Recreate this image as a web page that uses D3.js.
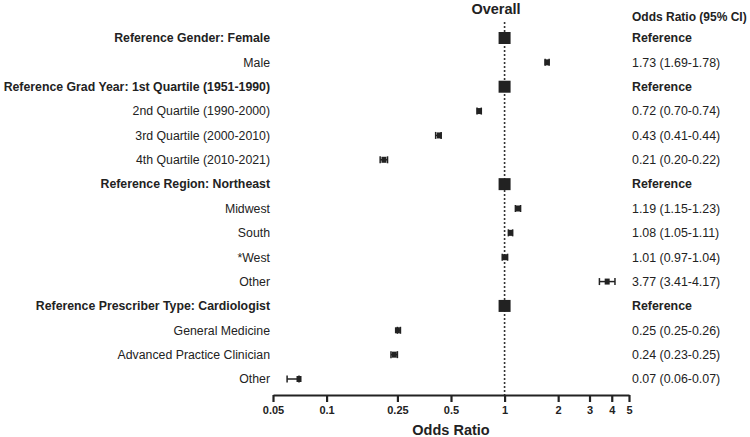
<!DOCTYPE html>
<html>
<head>
<meta charset="utf-8">
<script src="https://cdn.jsdelivr.net/npm/d3@7"></script>
<style>
	body { margin: 0; background: #fff; }
	text { font-family: "Liberation Sans", Arial, sans-serif; fill: #222; }
</style>
</head>
<body>
<script>
//rows of the forest plot, top to bottom
const labels = [
	"Reference Gender: Female", "Male",
	"Reference Grad Year: 1st Quartile (1951-1990)", "2nd Quartile (1990-2000)", "3rd Quartile (2000-2010)", "4th Quartile (2010-2021)",
	"Reference Region: Northeast", "Midwest", "South", "*West", "Other",
	"Reference Prescriber Type: Cardiologist", "General Medicine", "Advanced Practice Clinician", "Other"
];
const isRef = [true, false, true, false, false, false, true, false, false, false, false, true, false, false, false];
const oddsRatio = [1, 1.73, 1, 0.72, 0.43, 0.21, 1, 1.19, 1.08, 1.01, 3.77, 1, 0.25, 0.24, 0.07];
const ciLow  = [1, 1.69, 1, 0.70, 0.41, 0.20, 1, 1.15, 1.05, 0.97, 3.41, 1, 0.25, 0.23, 0.06];
const ciHigh = [1, 1.78, 1, 0.74, 0.44, 0.22, 1, 1.23, 1.11, 1.04, 4.17, 1, 0.26, 0.25, 0.07];
const ciText = ["Reference", "1.73 (1.69-1.78)", "Reference", "0.72 (0.70-0.74)", "0.43 (0.41-0.44)", "0.21 (0.20-0.22)",
	"Reference", "1.19 (1.15-1.23)", "1.08 (1.05-1.11)", "1.01 (0.97-1.04)", "3.77 (3.41-4.17)",
	"Reference", "0.25 (0.25-0.26)", "0.24 (0.23-0.25)", "0.07 (0.06-0.07)"];
const tickVals = [0.05, 0.1, 0.25, 0.5, 1, 2, 3, 4, 5];

const width = 750, height = 437;
const axisY = 395;

const svg = d3.select("body").append("svg")
	.attr("width", width)
	.attr("height", height);

//scales
const x = d3.scaleLog().domain([0.05, 5]).range([273, 629]);
const y = d3.scalePoint().domain(d3.range(labels.length)).range([38, 379]);

const rows = labels.map(function(d, i){
	return {label: d, ref: isRef[i], or: oddsRatio[i], lo: ciLow[i], hi: ciHigh[i], txt: ciText[i], i: i};
});

//dotted line of no effect
svg.append("line")
	.attr("x1", x(1)).attr("x2", x(1))
	.attr("y1", 22).attr("y2", axisY)
	.attr("stroke", "#333")
	.attr("stroke-width", 1.6)
	.attr("stroke-dasharray", "2,2");

//row labels
svg.append("g").selectAll("text")
	.data(rows).enter().append("text")
	.attr("x", 270)
	.attr("y", function(d){ return y(d.i); })
	.attr("dy", "0.35em")
	.attr("text-anchor", "end")
	.attr("font-size", 12.3)
	.attr("font-weight", function(d){ return d.ref ? "bold" : "normal"; })
	.text(function(d){ return d.label; });

//odds ratio column
svg.append("text")
	.attr("x", 632).attr("y", 17)
	.attr("dy", "0.35em")
	.attr("font-size", 12)
	.attr("font-weight", "bold")
	.text("Odds Ratio (95% CI)");

svg.append("g").selectAll("text")
	.data(rows).enter().append("text")
	.attr("x", 632)
	.attr("y", function(d){ return y(d.i); })
	.attr("dy", "0.35em")
	.attr("font-size", 12.4)
	.attr("font-weight", function(d){ return d.ref ? "bold" : "normal"; })
	.text(function(d){ return d.txt; });

//error bars
const est = rows.filter(function(d){ return !d.ref; });
const bars = svg.append("g").attr("stroke", "#222").attr("stroke-width", 1.5);
bars.selectAll(".ci").data(est).enter().append("line")
	.attr("x1", function(d){ return x(d.lo); })
	.attr("x2", function(d){ return x(d.hi); })
	.attr("y1", function(d){ return y(d.i); })
	.attr("y2", function(d){ return y(d.i); });
bars.selectAll(".capl").data(est).enter().append("line")
	.attr("x1", function(d){ return x(d.lo); })
	.attr("x2", function(d){ return x(d.lo); })
	.attr("y1", function(d){ return y(d.i) - 3.5; })
	.attr("y2", function(d){ return y(d.i) + 3.5; });
bars.selectAll(".caph").data(est).enter().append("line")
	.attr("x1", function(d){ return x(d.hi); })
	.attr("x2", function(d){ return x(d.hi); })
	.attr("y1", function(d){ return y(d.i) - 3.5; })
	.attr("y2", function(d){ return y(d.i) + 3.5; });

//point markers
svg.append("g").selectAll("rect")
	.data(rows).enter().append("rect")
	.attr("fill", "#222")
	.attr("x", function(d){ return x(d.or) - (d.ref ? 6 : 2.5); })
	.attr("y", function(d){ return y(d.i) - (d.ref ? 6 : 3); })
	.attr("width", function(d){ return d.ref ? 12 : 5; })
	.attr("height", function(d){ return d.ref ? 12 : 6; });

//x axis
const xAxis = d3.axisBottom(x)
	.tickValues(tickVals)
	.tickFormat(function(d){ return d; })
	.tickSize(7)
	.tickSizeOuter(0)
	.tickPadding(4);

const gx = svg.append("g")
	.attr("transform", "translate(0," + axisY + ")")
	.call(xAxis);
gx.select(".domain").attr("stroke", "#222").attr("stroke-width", 2.2);
gx.selectAll(".tick line").attr("stroke", "#222").attr("stroke-width", 2.2);
gx.selectAll(".tick text")
	.attr("font-size", 11)
	.attr("font-weight", "bold")
	.style("font-family", "'Liberation Sans', Arial, sans-serif")
	.attr("fill", "#222");

//titles
svg.append("text")
	.attr("x", 496).attr("y", 9)
	.attr("dy", "0.35em")
	.attr("text-anchor", "middle")
	.attr("font-size", 14.5)
	.attr("font-weight", "bold")
	.text("Overall");

svg.append("text")
	.attr("x", (x.range()[0] + x.range()[1]) / 2).attr("y", 435)
	.attr("text-anchor", "middle")
	.attr("font-size", 14.5)
	.attr("font-weight", "bold")
	.text("Odds Ratio");
</script>
</body>
</html>
